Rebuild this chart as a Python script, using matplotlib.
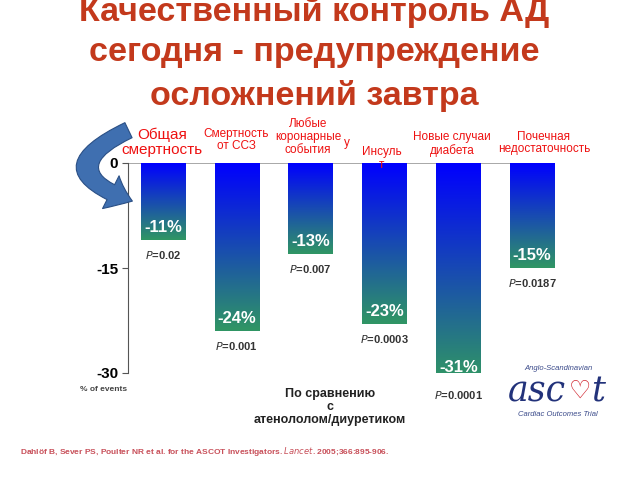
import numpy as np
import matplotlib
matplotlib.use("Agg")
import matplotlib.pyplot as plt
from matplotlib.patches import FancyArrowPatch

# данные
labels = ["Общая\nсмертность", "Смертность\nот ССЗ", "Любые\nкоронарные\nсобытия",
          "Инсуль", "Новые случаи\nдиабета", "Почечная\nнедостаточность"]
values = [-11, -24, -13, -23, -31, -15]
p_values = ["0.02", "0.001", "0.007", "0.0003", "0.0001", "0.0187"]
yticks = [0, -15, -30]

plt.rcParams['font.family'] = ['Liberation Sans', 'DejaVu Sans']

W, H = 640, 480
fig = plt.figure(figsize=(6.4, 4.8), dpi=100)


def fx(px):
    return px / W


def fy(py):
    return 1 - py / H


ax = fig.add_axes([fx(128), fy(373), fx(555) - fx(128), fy(163) - fy(373)])

top = np.array([0, 0, 255]) / 255
bot = np.array([48, 150, 100]) / 255
grad = np.linspace(0, 1, 256)[:, None]
cols = top[None, :] * (1 - grad) + bot[None, :] * grad
img = cols[:, None, :]

w = 0.6
for i, v in enumerate(values):
    ax.imshow(img, extent=[i - w / 2, i + w / 2, v, 0], aspect='auto',
              interpolation='bilinear', zorder=2)
    ax.text(i, v + 1.8, f"{v}%", ha='center', va='center', color='white',
            fontsize=12, fontweight='bold', zorder=3)
    ax.annotate(r"$\mathit{P}$=" + p_values[i], (i, v), xytext=(0, -11),
                textcoords='offset points', ha='center', va='center',
                fontsize=8, fontweight='bold', color='#333333',
                annotation_clip=False)

ax.axhline(0, color='#999999', lw=1.2, zorder=1)
for s in ['top', 'right', 'bottom']:
    ax.spines[s].set_visible(False)
ax.spines['left'].set_color('#555555')
ax.set_xticks([])
ax.set_yticks(yticks)
ax.set_yticklabels(['0', '-15', '-30'], fontsize=11, fontweight='bold')
ax.tick_params(axis='y', length=4, color='#555555', pad=3)
ax.set_xlim(-0.474, 5.31)
ax.set_ylim(-30, 0)
ax.text(-0.8, -32.3, "% of events", fontsize=6, fontweight='bold',
        color='#444444', ha='center', va='center', clip_on=False)

# заголовок
title_c = '#c3391c'
for py, line in [(12, "Качественный контроль АД"),
                 (53, "сегодня - предупреждение"),
                 (96, "осложнений завтра")]:
    fig.text(fx(314), fy(py), line, ha='center', va='center',
             fontsize=24.5, fontweight='bold', color=title_c)

# подписи категорий
red = '#ee1111'
fig.text(fx(162), fy(142), labels[0], ha='center', va='center',
         fontsize=11, color=red, linespacing=1.1)
fig.text(fx(236), fy(140), labels[1], ha='center', va='center',
         fontsize=8.5, color=red, linespacing=1.1)
fig.text(fx(308), fy(137), labels[2], ha='center', va='center',
         fontsize=8.5, color=red, linespacing=1.1)
fig.text(fx(347), fy(143), "у", ha='center', va='center',
         fontsize=8.5, color=red)
fig.text(fx(382), fy(152), labels[3], ha='center', va='center',
         fontsize=8.5, color=red)
fig.text(fx(382), fy(165), "т", ha='center', va='center',
         fontsize=8.5, color=red)
fig.text(fx(452), fy(144), labels[4], ha='center', va='center',
         fontsize=8.5, color=red, linespacing=1.1)
fig.text(fx(544), fy(143), labels[5], ha='center', va='center',
         fontsize=8.5, color=red, linespacing=1.1)

# изогнутая стрелка
arr = FancyArrowPatch((fx(131), fy(129)), (fx(135), fy(202)),
                      transform=fig.transFigure,
                      connectionstyle="arc3,rad=1.25",
                      arrowstyle="simple,head_width=2.2,head_length=1.4,tail_width=1.0",
                      mutation_scale=12, fc='#3f6fb0', ec='#2a4f85', lw=0.8)
fig.patches.append(arr)

# нижняя подпись
fig.text(fx(330), fy(407), "По сравнению\nс\nатенололом/диуретиком", ha='center',
         va='center', fontsize=9, fontweight='bold', color='#222222',
         linespacing=1.15)

# логотип ASCOT
navy = '#22327a'
fig.text(fx(558), fy(369), "Anglo-Scandinavian", ha='center', va='center',
         fontsize=5.5, style='italic', color='#3a4a8a')
fig.text(fx(566), fy(392), "asc", ha='right', va='center', fontsize=25,
         style='italic', family='DejaVu Serif', color=navy)
fig.text(fx(580), fy(391), "♡", ha='center', va='center', fontsize=18,
         color='#d0202a', family='DejaVu Sans', fontweight='bold')
fig.text(fx(591), fy(392), "t", ha='left', va='center', fontsize=25,
         style='italic', family='DejaVu Serif', color=navy)
fig.text(fx(558), fy(414), "Cardiac Outcomes Trial", ha='center', va='center',
         fontsize=5.5, style='italic', color='#3a4a8a')

# источник
fig.text(fx(20), fy(451),
         "Dahlöf B, Sever PS, Poulter NR et al. for the ASCOT Investigators. "
         r"$\mathit{Lancet}$. 2005;366:895-906.",
         ha='left', va='center', fontsize=6.0, fontweight='bold', color='#c8505a')

fig.savefig("out.png", dpi=100)
